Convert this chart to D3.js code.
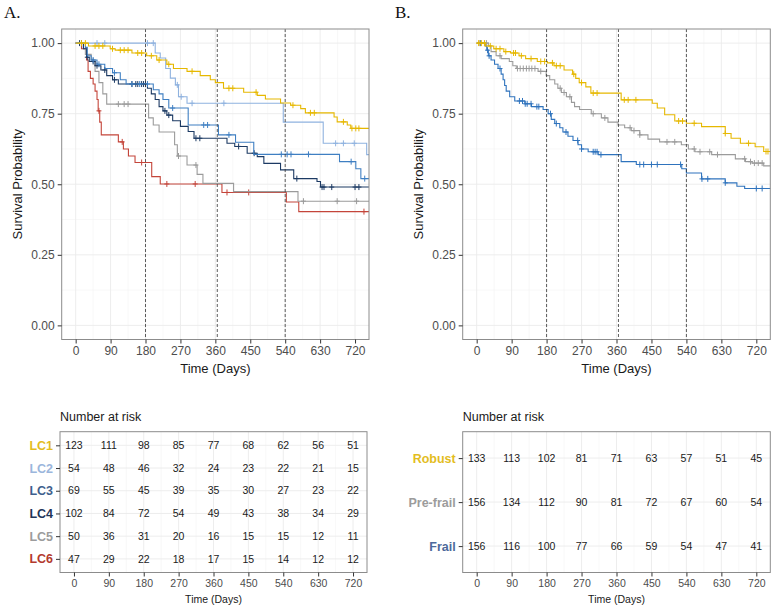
<!DOCTYPE html>
<html>
<head>
<meta charset="utf-8">
<script src="https://cdn.jsdelivr.net/npm/d3@7"></script>
<style>
  body { margin: 0; background: #fff; }
  svg { font-family: "Liberation Sans", Arial, sans-serif; }
  .grid-major { stroke: #ebebeb; stroke-width: 0.9; }
  .grid-minor { stroke: #f4f4f4; stroke-width: 0.6; }
  .tick-label { fill: #4d4d4d; font-size: 12px; }
  .axis-title { fill: #1a1a1a; font-size: 13px; }
  .cut { stroke: #333; stroke-width: 0.8; stroke-dasharray: 3,2; }
</style>
</head>
<body>
<svg width="776" height="608"></svg>
<script>
// ---- data ----
const timeTicks = [0, 90, 180, 270, 360, 450, 540, 630, 720];
const probTicks = [0, 0.25, 0.5, 0.75, 1];
const cutDays = [180, 365, 540];

const clusterNames = ["LC1", "LC2", "LC3", "LC4", "LC5", "LC6"];
const clusterColors = ["#e6b800", "#8fb2df", "#3f7fc2", "#1c3a63", "#9b9b9b", "#c4453a"];
const clusterLabelColors = ["#e3bd1f", "#9bb6dc", "#3f5f8d", "#1f3559", "#9c9c9c", "#b33a2e"];

// [day, survival] at each drop
const lc1Steps = [[0,1],[33,0.99],[89,0.98],[102,0.975],[145,0.965],[183,0.955],[209,0.94],[235,0.925],[252,0.91],[287,0.9],[321,0.885],[347,0.87],[360,0.86],[381,0.84],[433,0.826],[468,0.815],[489,0.802],[528,0.788],[554,0.78],[580,0.768],[592,0.753],[666,0.738],[674,0.721],[700,0.71],[709,0.698]];
const lc2Steps = [[0,1],[205,0.965],[218,0.947],[232,0.91],[244,0.876],[257,0.852],[265,0.81],[287,0.787],[535,0.72],[638,0.645],[750,0.605]];
const lc3Steps = [[0,1],[25,0.985],[30,0.955],[40,0.94],[55,0.925],[75,0.91],[95,0.895],[115,0.87],[130,0.855],[200,0.835],[215,0.82],[225,0.8],[240,0.77],[290,0.71],[368,0.675],[412,0.649],[459,0.606],[680,0.58],[722,0.555],[735,0.52]];
const lc4Steps = [[0,1],[20,0.98],[28,0.95],[35,0.935],[50,0.92],[65,0.905],[80,0.885],[95,0.87],[110,0.855],[185,0.84],[195,0.82],[205,0.8],[215,0.775],[225,0.76],[235,0.745],[250,0.725],[270,0.705],[290,0.687],[305,0.663],[390,0.645],[410,0.634],[442,0.61],[468,0.598],[485,0.574],[528,0.551],[562,0.52],[622,0.51],[631,0.49]];
const lc5Steps = [[0,1],[20,0.98],[25,0.96],[40,0.94],[50,0.9],[60,0.86],[70,0.82],[80,0.784],[188,0.735],[200,0.71],[215,0.685],[255,0.64],[262,0.6],[287,0.568],[313,0.535],[328,0.503],[407,0.474],[573,0.44]];
const lc6Steps = [[0,1],[15,0.98],[28,0.94],[32,0.9],[38,0.875],[45,0.855],[50,0.83],[55,0.8],[58,0.76],[62,0.72],[66,0.675],[110,0.65],[123,0.625],[136,0.6],[153,0.577],[196,0.527],[218,0.501],[377,0.471],[543,0.437],[575,0.403]];

// censoring days
const lc1Censor = [15,25,50,60,70,95,115,125,135,160,170,195,215,240,300,395,405,465,560,605,615,690,712,722,730];
const lc2Censor = [55,75,185,200,262,272,300,382,670,690,718];
const lc3Censor = [15,45,60,100,145,165,185,250,330,340,395,530,545,555,600,710,745];
const lc4Censor = [10,30,45,55,75,100,145,155,160,170,175,180,230,240,310,320,420,460,570,635,640,660,720,730];
const lc5Censor = [110,125,135,265,310,587,674,724];
const lc6Censor = [60,120,170,235,308,390,446,743];

const frailNames = ["Robust", "Pre-frail", "Frail"];
const frailColors = ["#e6b800", "#9b9b9b", "#2f73bd"];
const frailLabelColors = ["#e3bd1f", "#9c9c9c", "#4d6a9b"];

const robustSteps = [[0,1],[22,0.99],[44,0.98],[70,0.97],[87,0.965],[109,0.955],[126,0.945],[156,0.935],[182,0.93],[199,0.92],[225,0.905],[247,0.89],[255,0.875],[264,0.86],[281,0.845],[294,0.823],[372,0.799],[452,0.787],[465,0.77],[484,0.746],[510,0.724],[540,0.716],[579,0.704],[640,0.68],[655,0.663],[679,0.645],[717,0.633],[739,0.616]];
const prefrailSteps = [[0,1],[30,0.99],[37,0.97],[50,0.955],[63,0.945],[84,0.935],[93,0.92],[102,0.91],[158,0.9],[179,0.885],[188,0.87],[201,0.855],[209,0.84],[218,0.825],[231,0.81],[244,0.79],[252,0.775],[265,0.765],[295,0.75],[321,0.735],[338,0.72],[364,0.71],[381,0.7],[398,0.69],[420,0.675],[441,0.66],[471,0.65],[527,0.64],[545,0.625],[562,0.615],[605,0.605],[666,0.59],[692,0.58],[709,0.575],[739,0.565]];
const frailSteps = [[0,1],[22,0.99],[26,0.975],[30,0.955],[37,0.94],[46,0.925],[55,0.91],[63,0.89],[68,0.87],[72,0.85],[76,0.83],[85,0.81],[98,0.795],[124,0.785],[141,0.775],[171,0.765],[184,0.75],[192,0.73],[201,0.715],[214,0.7],[222,0.685],[235,0.67],[248,0.655],[261,0.64],[270,0.625],[287,0.615],[313,0.605],[372,0.58],[411,0.57],[528,0.555],[540,0.54],[579,0.519],[640,0.505],[670,0.493],[690,0.485]];

const robustCensor = [5,12,20,35,50,60,75,95,100,115,140,165,175,195,205,215,250,270,300,310,380,390,410,520,530,560,640,700,745,750];
const prefrailCensor = [8,25,60,105,112,120,128,135,142,150,165,215,225,240,300,330,395,405,420,490,510,560,575,600,620,690,705,715,725,735];
const frailCensor = [10,28,32,60,110,118,125,130,140,155,160,190,205,230,260,270,300,305,310,320,420,430,450,465,525,580,595,640,720,735];

// number at risk
const lc1Risk = [123,111,98,85,77,68,62,56,51];
const lc2Risk = [54,48,46,32,24,23,22,21,15];
const lc3Risk = [69,55,45,39,35,30,27,23,22];
const lc4Risk = [102,84,72,54,49,43,38,34,29];
const lc5Risk = [50,36,31,20,16,15,15,12,11];
const lc6Risk = [47,29,22,18,17,15,14,12,12];
const robustRisk = [133,113,102,81,71,63,57,51,45];
const prefrailRisk = [156,134,112,90,81,72,67,60,54];
const frailRisk = [156,116,100,77,66,59,54,47,41];

const lastDay = 770;

// ---- drawing ----
const svg = d3.select("svg");

const survAt = function(steps, day) {
  let s = 1;
  steps.forEach(d => { if (d[0] <= day) s = d[1]; });
  return s;
};

const drawKM = function(id, box, curves) {
  const g = svg.append("g").attr("class", "km-" + id);
  const x = d3.scaleLinear().domain([-36, 756]).range([box.left, box.right]);
  const y = d3.scaleLinear().domain([-0.05, 1.05]).range([box.bottom, box.top]);

  const minorX = timeTicks.slice(0, -1).map(t => t + 45).concat([-45 + 0]);
  const minorY = [0.125, 0.375, 0.625, 0.875];
  g.selectAll(".mx").data(minorX.filter(t => t > -36)).join("line")
    .attr("class", "grid-minor")
    .attr("x1", d => x(d)).attr("x2", d => x(d))
    .attr("y1", box.top).attr("y2", box.bottom);
  g.selectAll(".my").data(minorY).join("line")
    .attr("class", "grid-minor")
    .attr("x1", box.left).attr("x2", box.right)
    .attr("y1", d => y(d)).attr("y2", d => y(d));
  g.selectAll(".gx").data(timeTicks).join("line")
    .attr("class", "grid-major")
    .attr("x1", d => x(d)).attr("x2", d => x(d))
    .attr("y1", box.top).attr("y2", box.bottom);
  g.selectAll(".gy").data(probTicks).join("line")
    .attr("class", "grid-major")
    .attr("x1", box.left).attr("x2", box.right)
    .attr("y1", d => y(d)).attr("y2", d => y(d));

  const clipId = "clip-" + id;
  svg.append("defs").append("clipPath").attr("id", clipId)
    .append("rect")
    .attr("x", box.left).attr("y", box.top)
    .attr("width", box.right - box.left).attr("height", box.bottom - box.top);

  const plot = g.append("g").attr("clip-path", `url(#${clipId})`);

  const line = d3.line()
    .curve(d3.curveStepAfter)
    .x(d => x(d[0]))
    .y(d => y(d[1]));

  curves.forEach(c => {
    const pts = c.steps.concat([[lastDay, c.steps[c.steps.length - 1][1]]]);
    plot.append("path")
      .attr("d", line(pts))
      .attr("fill", "none")
      .attr("stroke", c.color)
      .attr("stroke-width", 1.1);
    const marks = plot.append("g").attr("stroke", c.color).attr("stroke-width", 1);
    c.censor.forEach(day => {
      const cx = x(day);
      const cy = y(survAt(c.steps, day));
      marks.append("line").attr("x1", cx).attr("x2", cx).attr("y1", cy - 3).attr("y2", cy + 3);
      marks.append("line").attr("x1", cx - 2.5).attr("x2", cx + 2.5).attr("y1", cy).attr("y2", cy);
    });
  });

  g.selectAll(".cut").data(cutDays).join("line")
    .attr("class", "cut")
    .attr("x1", d => x(d)).attr("x2", d => x(d))
    .attr("y1", box.top).attr("y2", box.bottom);

  g.append("rect")
    .attr("x", box.left).attr("y", box.top)
    .attr("width", box.right - box.left).attr("height", box.bottom - box.top)
    .attr("fill", "none").attr("stroke", "#8c8c8c").attr("stroke-width", 1);

  const yAxis = d3.axisLeft(y).tickValues(probTicks).tickFormat(d3.format(".2f")).tickSize(4).tickPadding(3);
  const xAxis = d3.axisBottom(x).tickValues(timeTicks).tickSize(4).tickPadding(3);
  const ya = g.append("g").attr("transform", `translate(${box.left},0)`).call(yAxis);
  const xa = g.append("g").attr("transform", `translate(0,${box.bottom})`).call(xAxis);
  [ya, xa].forEach(a => {
    a.select(".domain").remove();
    a.selectAll(".tick line").attr("stroke", "#333");
    a.selectAll(".tick text").attr("class", "tick-label").attr("font-family", null).attr("font-size", null);
  });

  g.append("text").attr("class", "axis-title")
    .attr("x", (x(0) + x(720)) / 2).attr("y", box.bottom + 33)
    .attr("text-anchor", "middle").text("Time (Days)");
  g.append("text").attr("class", "axis-title")
    .attr("transform", `translate(${box.left - 40},${(box.top + box.bottom) / 2}) rotate(-90)`)
    .attr("text-anchor", "middle").text("Survival Probability");
};

const drawRisk = function(id, box, names, labelColors, risks) {
  const g = svg.append("g").attr("class", "risk-" + id);
  const x = d3.scaleLinear().domain([-36, 756]).range([box.left, box.right]);
  const y = d3.scalePoint().domain(names).range([box.top, box.bottom]).padding(0.6);

  const minorX = timeTicks.slice(0, -1).map(t => t + 45);
  g.selectAll(".mx").data(minorX).join("line")
    .attr("class", "grid-minor")
    .attr("x1", d => x(d)).attr("x2", d => x(d))
    .attr("y1", box.top).attr("y2", box.bottom);
  g.selectAll(".gx").data(timeTicks).join("line")
    .attr("class", "grid-major")
    .attr("x1", d => x(d)).attr("x2", d => x(d))
    .attr("y1", box.top).attr("y2", box.bottom);
  g.selectAll(".gy").data(names).join("line")
    .attr("class", "grid-major")
    .attr("x1", box.left).attr("x2", box.right)
    .attr("y1", d => y(d)).attr("y2", d => y(d));

  names.forEach((n, i) => {
    g.selectAll(".n" + i).data(risks[i]).join("text")
      .attr("x", (d, j) => x(timeTicks[j]))
      .attr("y", y(n))
      .attr("dy", "0.35em")
      .attr("text-anchor", "middle")
      .attr("font-size", 10.5)
      .attr("fill", "#1a1a1a")
      .text(d => d);
  });

  g.append("rect")
    .attr("x", box.left).attr("y", box.top)
    .attr("width", box.right - box.left).attr("height", box.bottom - box.top)
    .attr("fill", "none").attr("stroke", "#8c8c8c").attr("stroke-width", 1);

  const ya = g.append("g").attr("transform", `translate(${box.left},0)`)
    .call(d3.axisLeft(y).tickSize(4).tickPadding(3));
  const xa = g.append("g").attr("transform", `translate(0,${box.bottom})`)
    .call(d3.axisBottom(x).tickValues(timeTicks).tickSize(4).tickPadding(3));
  [ya, xa].forEach(a => {
    a.select(".domain").remove();
    a.selectAll(".tick line").attr("stroke", "#333");
    a.selectAll(".tick text").attr("font-family", null);
  });
  xa.selectAll(".tick text").attr("font-size", 10.5).attr("fill", "#4d4d4d");
  ya.selectAll(".tick text")
    .attr("font-size", 12.5).attr("font-weight", "bold")
    .attr("fill", (d, i) => labelColors[i]);

  g.append("text")
    .attr("x", (x(0) + x(720)) / 2).attr("y", box.bottom + 30)
    .attr("text-anchor", "middle").attr("font-size", 10.5).attr("fill", "#1a1a1a")
    .text("Time (Days)");
  g.append("text")
    .attr("x", box.left).attr("y", box.top - 11)
    .attr("font-size", 12.5).attr("fill", "#1a1a1a")
    .text("Number at risk");
};

const main = function() {
  const boxA = { left: 61.7, right: 369, top: 29, bottom: 339.5 };
  const boxB = { left: 462.7, right: 770.3, top: 29, bottom: 339.5 };

  const stepsA = [lc1Steps, lc2Steps, lc3Steps, lc4Steps, lc5Steps, lc6Steps];
  const censorA = [lc1Censor, lc2Censor, lc3Censor, lc4Censor, lc5Censor, lc6Censor];
  // draw LC1 last so it sits on top, as in the original
  const curvesA = clusterNames.map((n, i) => ({ steps: stepsA[i], censor: censorA[i], color: clusterColors[i] })).reverse();
  drawKM("A", boxA, curvesA);

  const stepsB = [robustSteps, prefrailSteps, frailSteps];
  const censorB = [robustCensor, prefrailCensor, frailCensor];
  const curvesB = frailNames.map((n, i) => ({ steps: stepsB[i], censor: censorB[i], color: frailColors[i] })).reverse();
  drawKM("B", boxB, curvesB);

  drawRisk("A", { left: 60, right: 367, top: 431.7, bottom: 572.5 }, clusterNames, clusterLabelColors,
    [lc1Risk, lc2Risk, lc3Risk, lc4Risk, lc5Risk, lc6Risk]);
  drawRisk("B", { left: 462.7, right: 770.3, top: 431.7, bottom: 572.5 }, frailNames, frailLabelColors,
    [robustRisk, prefrailRisk, frailRisk]);

  svg.append("text").attr("x", 4).attr("y", 18)
    .attr("font-family", "'Liberation Serif', 'Times New Roman', serif").attr("font-size", 17)
    .attr("fill", "#111").text("A.");
  svg.append("text").attr("x", 395).attr("y", 18)
    .attr("font-family", "'Liberation Serif', 'Times New Roman', serif").attr("font-size", 17)
    .attr("fill", "#111").text("B.");
};

main();
</script>
</body>
</html>
